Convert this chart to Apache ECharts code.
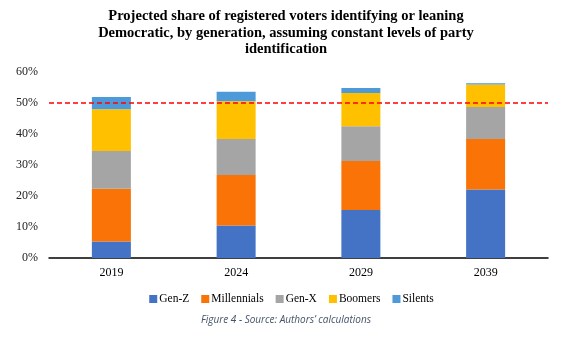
<!DOCTYPE html>
<html><head><meta charset="utf-8">
<script src="https://cdn.jsdelivr.net/npm/echarts@6/dist/echarts.min.js"></script>
<style>html,body{margin:0;padding:0;background:#fff}#c{width:583px;height:338px}</style>
</head><body><div id="c"></div>
<script>
const years = ['2019', '2024', '2029', '2039'];
const genZ = [5.3, 10.5, 15.5, 22.1];
const millennials = [17.0, 16.3, 15.8, 16.3];
const genX = [12.2, 11.6, 11.2, 10.3];
const boomers = [13.5, 12.2, 10.7, 7.3];
const silents = [3.9, 3.0, 1.6, 0.4];
const threshold = 50;
const seriesNames = ['Gen-Z', 'Millennials', 'Gen-X', 'Boomers', 'Silents'];
const seriesData = [genZ, millennials, genX, boomers, silents];
const colors = ['#4472C4', '#F97306', '#A5A5A5', '#FFC000', '#4E9AD9'];
const serif = 'Liberation Serif';

const chart = echarts.init(document.getElementById('c'));
const series = seriesNames.map((n, i) => ({
  name: n, type: 'bar', stack: 'total', barWidth: 39,
  data: seriesData[i], itemStyle: {color: colors[i]}
}));
series.push({
  name: 'threshold', type: 'line', xAxisIndex: 1, silent: true,
  data: [[0, threshold], [1, threshold]],
  symbol: 'none', z: 10, color: '#FF0000',
  lineStyle: {color: '#FF0000', type: [5, 3], width: 1.5}
});
chart.setOption({
  animation: false,
  legend: {
    top: 288, left: 'center', itemWidth: 8, itemHeight: 8, itemGap: 12,
    icon: 'rect',
    textStyle: {fontFamily: serif, fontSize: 11.5, color: '#000', padding: [0, 0, 0, -3]},
    data: seriesNames
  },
  graphic: [{
    type: 'text', x: 286, y: 8,
    style: {
      text: 'Projected share of registered voters identifying or leaning\nDemocratic, by generation, assuming constant levels of party\nidentification',
      font: 'bold 14.5px "Liberation Serif"', fill: '#000', align: 'center', lineHeight: 16.5
    }
  }, {
    type: 'text', x: 286, y: 315,
    style: {text: 'Figure 4 - Source: Authors\u2019 calculations', font: 'italic 10px "Open Sans"', fill: '#44546A', align: 'center'}
  }],
  grid: {left: 49, right: 35, top: 72, bottom: 80},
  xAxis: [{
    type: 'category', data: years,
    axisLine: {lineStyle: {color: '#000', width: 1.5}},
    axisTick: {show: false},
    axisLabel: {fontFamily: serif, fontSize: 12, color: '#000', margin: 9}
  }, {
    type: 'value', min: 0, max: 1, show: false
  }],
  yAxis: {
    type: 'value', min: 0, max: 60, interval: 10,
    splitLine: {show: false},
    axisLine: {show: false}, axisTick: {show: false},
    axisLabel: {formatter: '{value}%', fontFamily: serif, fontSize: 12, color: '#222', margin: 11}
  },
  series: series
});
</script></body></html>
